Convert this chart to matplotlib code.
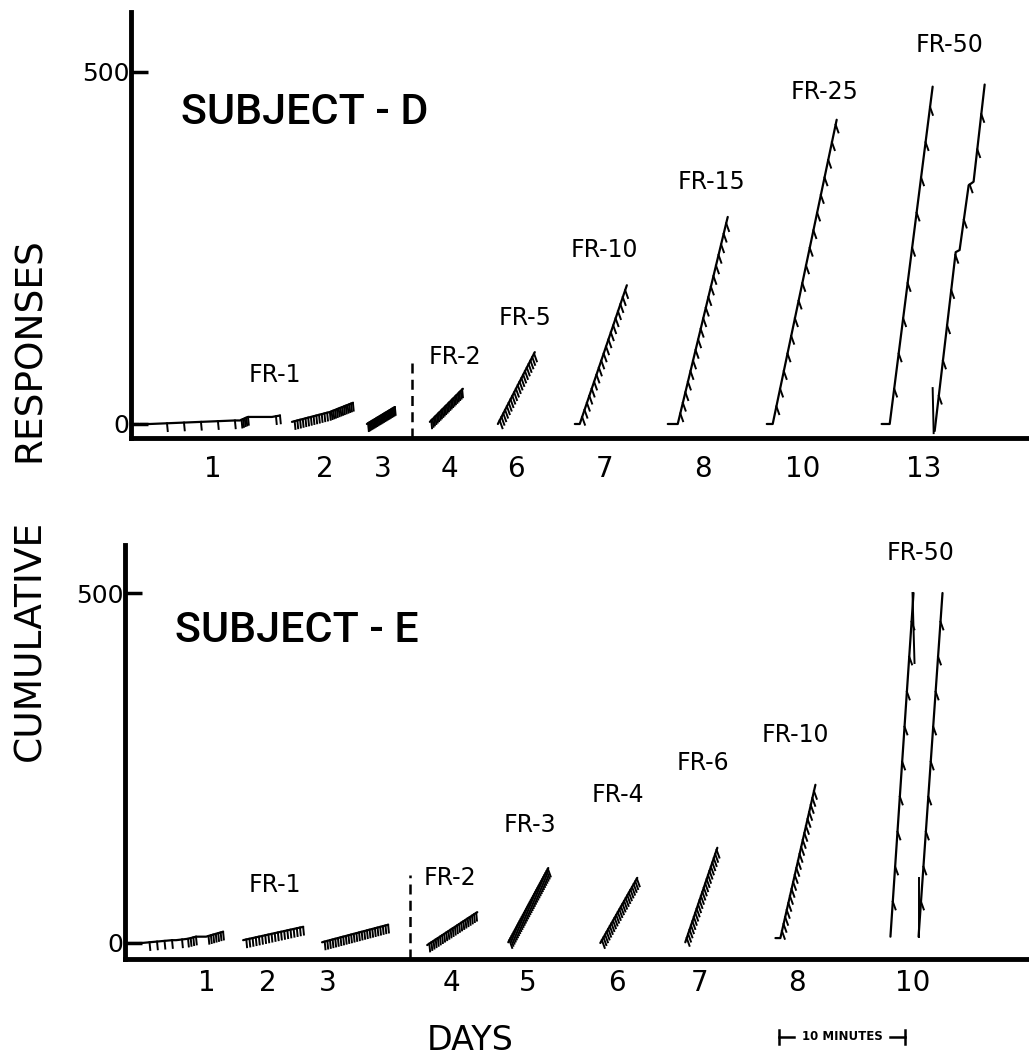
import numpy as np
import matplotlib
matplotlib.use('Agg')
import matplotlib.pyplot as plt
from matplotlib.transforms import blended_transform_factory

plt.rcParams['font.family'] = ['DejaVu Sans']

# ---- Subject D: записи (время, мин; накопленные ответы) ----
d_day1_t = [0.71, 1.51, 8.25, 8.65, 9.29, 11.19, 11.83]
d_day1_c = [0, 0, 5, 5, 10, 10, 12]
d_day2_t = [12.78, 15.79, 17.62]
d_day2_c = [3, 17, 30]
d_day3_t = [18.73, 20.95]
d_day3_c = [0, 24]
d_day4_t = [23.73, 26.35]
d_day4_c = [3, 50]
d_day6_t = [29.13, 32.06]
d_day6_c = [0, 102]
d_day7_t = [35.24, 35.63, 39.37]
d_day7_c = [0, 0, 197]
d_day8_t = [42.62, 43.41, 47.38]
d_day8_c = [0, 0, 294]
d_day10_t = [50.48, 50.95, 56.03]
d_day10_c = [0, 0, 432]
d_day13a_t = [59.60, 60.24, 63.65]
d_day13a_c = [0, 0, 479]
d_day13b_t = [63.81, 65.48, 65.79, 66.51, 66.90, 67.78]
d_day13b_c = [-10, 244, 247, 339, 344, 482]
d_reset_t = [63.65, 63.73]
d_reset_c = [51, -13]

d_ratios = [1, 1, 1, 2, 5, 10, 15, 25, 50, 50]
d_day_pos = [6.5, 15.4, 20.0, 25.3, 30.6, 37.6, 45.4, 53.3, 62.9]
d_day_lbl = ['1', '2', '3', '4', '6', '7', '8', '10', '13']
d_fr_lbl = ['FR-1', 'FR-2', 'FR-5', 'FR-10', 'FR-15', 'FR-25', 'FR-50']
d_fr_t = [11.4, 25.7, 31.3, 37.6, 46.1, 55.1, 65.0]
d_fr_c = [70, 95, 150, 247, 344, 472, 538]

# ---- Subject E ----
e_day1_t = [1.19, 1.35, 3.73, 4.05, 5.0, 5.63, 6.43, 7.78]
e_day1_c = [0, 0, 4, 4, 6, 9, 9, 16]
e_day2_t = [9.37, 14.13]
e_day2_c = [4, 23]
e_day3_t = [15.63, 20.87]
e_day3_c = [1, 26]
e_day4_t = [23.97, 27.94]
e_day4_c = [-3, 44]
e_day5_t = [30.40, 33.57]
e_day5_c = [1, 107]
e_day6_t = [37.70, 40.63]
e_day6_c = [0, 93]
e_day7_t = [44.44, 46.98]
e_day7_c = [1, 136]
e_day8_t = [51.59, 51.98, 54.76]
e_day8_c = [7, 7, 226]
e_day10a_t = [60.71, 62.54]
e_day10a_c = [9, 500]
e_day10b_t = [62.94, 64.84]
e_day10b_c = [9, 500]
e_extra_t = [[62.46, 62.62], [62.94, 62.94]]
e_extra_c = [[500, 400], [93, 9]]

e_ratios = [1, 1, 1, 2, 3, 4, 6, 10, 50, 50]
e_day_pos = [6.5, 11.35, 16.1, 25.9, 31.9, 39.0, 45.6, 53.3, 62.5]
e_day_lbl = ['1', '2', '3', '4', '5', '6', '7', '8', '10']
e_fr_lbl = ['FR-1', 'FR-2', 'FR-3', 'FR-4', 'FR-6', 'FR-10', 'FR-50']
e_fr_t = [11.9, 25.8, 32.1, 39.1, 45.8, 53.2, 63.1]
e_fr_c = [83, 93, 169, 211, 257, 297, 557]


def pip_times(t, c, step):
    # время каждой отметки подкрепления (каждые step ответов)
    t = np.asarray(t, float)
    c = np.asarray(c, float)
    ks = np.arange(c[0] + step, c[-1] + 1e-9, step)
    out = []
    for k in ks:
        i = np.searchsorted(c, k)
        f = (k - c[i - 1]) / (c[i] - c[i - 1])
        out.append((t[i - 1] + f * (t[i] - t[i - 1]), k))
    return out


def draw_record(ax, t, c, step):
    ax.plot(t, c, color='black', lw=1.6, solid_capstyle='round', solid_joinstyle='round')
    dt = 0.06 if step <= 2 else 0.22
    for pt, pc in pip_times(t, c, step):
        ax.plot([pt, pt + dt], [pc, pc - 11], color='black', lw=1.4)


def setup_axes(ax, xmax, ylim, day_pos, day_lbl, pad):
    ax.set_xlim(0, xmax)
    ax.set_ylim(*ylim)
    for s in ['top', 'right']:
        ax.spines[s].set_visible(False)
    for s in ['left', 'bottom']:
        ax.spines[s].set_linewidth(3.5)
    ax.set_yticks([0, 500])
    ax.tick_params(axis='y', direction='in', length=12, width=2.5, labelsize=18, pad=1)
    ax.set_xticks(day_pos)
    ax.set_xticklabels(day_lbl)
    ax.tick_params(axis='x', length=0, labelsize=20, pad=pad)
    ax.patch.set_alpha(0)


fig = plt.figure(figsize=(10.29, 10.57), dpi=100)
W, H = 1029, 1057
ax1 = fig.add_axes([131 / W, 1 - 438 / H, (W - 131) / W, (438 - 12) / H])
ax2 = fig.add_axes([125 / W, 1 - 959 / H, (W - 125) / W, (959 - 545) / H])

setup_axes(ax1, 71.3, (-19.9, 585), d_day_pos, d_day_lbl, 12)
setup_axes(ax2, 71.7, (-22.9, 568.6), e_day_pos, e_day_lbl, 7)

d_records = [(d_day1_t, d_day1_c), (d_day2_t, d_day2_c), (d_day3_t, d_day3_c),
             (d_day4_t, d_day4_c), (d_day6_t, d_day6_c), (d_day7_t, d_day7_c),
             (d_day8_t, d_day8_c), (d_day10_t, d_day10_c), (d_day13a_t, d_day13a_c),
             (d_day13b_t, d_day13b_c)]
for (t, c), r in zip(d_records, d_ratios):
    draw_record(ax1, t, c, r)
ax1.plot(d_reset_t, d_reset_c, color='black', lw=1.4)
ax1.plot([0.1, 0.55], [0, 0], color='black', lw=1.6)

e_records = [(e_day1_t, e_day1_c), (e_day2_t, e_day2_c), (e_day3_t, e_day3_c),
             (e_day4_t, e_day4_c), (e_day5_t, e_day5_c), (e_day6_t, e_day6_c),
             (e_day7_t, e_day7_c), (e_day8_t, e_day8_c), (e_day10a_t, e_day10a_c),
             (e_day10b_t, e_day10b_c)]
for (t, c), r in zip(e_records, e_ratios):
    draw_record(ax2, t, c, r)
for t, c in zip(e_extra_t, e_extra_c):
    ax2.plot(t, c, color='black', lw=1.4)
ax2.plot([0.1, 1.1], [0, 0], color='black', lw=1.6)

# пунктир смены режима FR-1 -> FR-2
ax1.plot([22.3, 22.3], [-19.9, 94], color='black', lw=1.8, ls=(0, (4, 2.5)))
ax2.plot([22.6, 22.6], [-22.9, 97], color='black', lw=1.8, ls=(0, (4, 2.5)))

for s, t, c in zip(d_fr_lbl, d_fr_t, d_fr_c):
    ax1.text(t, c, s, fontsize=17, ha='center', va='center')
for s, t, c in zip(e_fr_lbl, e_fr_t, e_fr_c):
    ax2.text(t, c, s, fontsize=17, ha='center', va='center')

ax1.text(13.8, 443, 'SUBJECT - D', fontsize=31, family='Roboto', fontweight='medium',
         ha='center', va='center')
ax2.text(13.65, 447, 'SUBJECT - E', fontsize=31, family='Roboto', fontweight='medium',
         ha='center', va='center')

fig.text(30 / W, 1 - 350 / H, 'RESPONSES', rotation=90, fontsize=27, ha='center', va='center')
fig.text(30 / W, 1 - 640 / H, 'CUMULATIVE', rotation=90, fontsize=27, ha='center', va='center')
fig.text(470 / W, 1 - 1040 / H, 'DAYS', fontsize=24, ha='center', va='center')

# масштаб: 10 минут
tr = blended_transform_factory(ax2.transData, fig.transFigure)
y_bar = 1 - 1037 / H
t0, t1 = 51.9, 61.9
kw = dict(color='black', lw=1.8, transform=tr, clip_on=False)
ax2.plot([t0, t0], [y_bar - 0.007, y_bar + 0.007], **kw)
ax2.plot([t1, t1], [y_bar - 0.007, y_bar + 0.007], **kw)
ax2.plot([t0, t0 + 1.2], [y_bar, y_bar], **kw)
ax2.plot([t1 - 1.2, t1], [y_bar, y_bar], **kw)
ax2.text((t0 + t1) / 2, y_bar, '10 MINUTES', transform=tr, fontsize=8.5,
         fontweight='bold', ha='center', va='center')

fig.savefig('out.png', dpi=100, facecolor='white')
